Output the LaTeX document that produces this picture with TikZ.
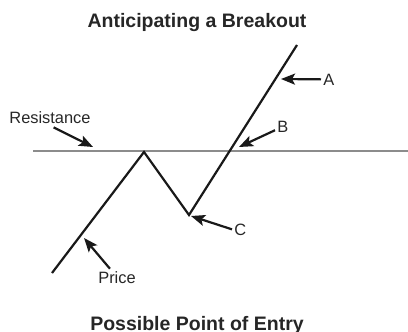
\documentclass[tikz,border=0pt]{standalone}
\usepackage{fontspec}
\setmainfont{Liberation Sans}
\usepackage{tikz}
\usetikzlibrary{arrows.meta}

\begin{document}
\begin{tikzpicture}[x=0.5pt, y=-0.5pt,
    heading/.style={font=\fontsize{9.75}{11}\selectfont\bfseries, text=black!85,
                    anchor=base, inner sep=0pt},
    lbl/.style={font=\fontsize{8.2}{10}\selectfont, text=black!85, inner sep=1pt},
    pointer/.style={-{Stealth[length=7pt, width=5.5pt, inset=1.5pt]}, line width=1.1pt, black!90}
  ]
  \useasboundingbox (0,0) rectangle (408,332);

  % resistance level
  \coordinate (resL) at (33,151);
  \coordinate (resR) at (408,151);
  \draw[line width=1.1pt, black!45] (resL) -- (resR);

  % price path
  \coordinate (start)  at (52,273);
  \coordinate (peak)   at (144,152);
  \coordinate (trough) at (189,215);
  \coordinate (top)    at (297,45);
  \draw[line width=1.1pt, black!90] (start) -- (peak) -- (trough) -- (top);

  % headings
  \node[heading] (title) at (197,27)  {Anticipating a Breakout};
  \node[heading] (entry) at (197,330) {Possible Point of Entry};

  % labels
  \node[lbl, anchor=base]      (labRes)   at (50,123)  {Resistance};
  \node[lbl, anchor=base west] (labA)     at (321,85)  {A};
  \node[lbl, anchor=base west] (labB)     at (275,133) {B};
  \node[lbl, anchor=base west] (labC)     at (232,235) {C};
  \node[lbl, anchor=base]      (labPrice) at (117,283) {Price};

  % arrow tips
  \coordinate (tipRes)   at (93,147);
  \coordinate (tipA)     at (281,79);
  \coordinate (tipB)     at (239,147);
  \coordinate (tipC)     at (191,216);
  \coordinate (tipPrice) at (84,238);

  \draw[pointer, shorten <=2pt] (labRes.south) -- (tipRes);
  \draw[pointer] (labA.west) -- (tipA);
  \draw[pointer] (labB.200) -- (tipB);
  \draw[pointer] (labC.west) -- (tipC);
  \draw[pointer] (labPrice.130) -- (tipPrice);
\end{tikzpicture}
\end{document}
